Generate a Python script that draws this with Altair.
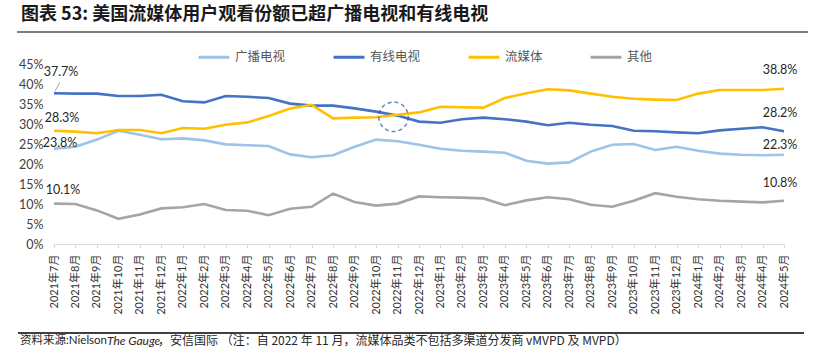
import altair as alt
import pandas as pd

months = [
    "2021年7月", "2021年8月", "2021年9月", "2021年10月", "2021年11月", "2021年12月",
    "2022年1月", "2022年2月", "2022年3月", "2022年4月", "2022年5月", "2022年6月",
    "2022年7月", "2022年8月", "2022年9月", "2022年10月", "2022年11月", "2022年12月",
    "2023年1月", "2023年2月", "2023年3月", "2023年4月", "2023年5月", "2023年6月",
    "2023年7月", "2023年8月", "2023年9月", "2023年10月", "2023年11月", "2023年12月",
    "2024年1月", "2024年2月", "2024年3月", "2024年4月", "2024年5月",
]

broadcast = [23.8, 24.3, 26.1, 28.3, 27.3, 26.2, 26.4, 25.9, 24.9, 24.7, 24.5, 22.4,
             21.7, 22.2, 24.3, 26.1, 25.7, 24.8, 23.8, 23.3, 23.1, 22.8, 20.8, 20.1,
             20.4, 23.1, 24.8, 25.0, 23.5, 24.3, 23.3, 22.6, 22.3, 22.2, 22.3]
cable = [37.7, 37.6, 37.6, 37.0, 37.0, 37.3, 35.7, 35.4, 37.0, 36.8, 36.5, 35.1,
         34.6, 34.6, 33.9, 33.1, 32.1, 30.6, 30.3, 31.2, 31.6, 31.2, 30.6, 29.7,
         30.3, 29.8, 29.5, 28.3, 28.2, 27.9, 27.7, 28.4, 28.8, 29.2, 28.2]
streaming = [28.3, 28.1, 27.7, 28.5, 28.5, 27.7, 29.0, 28.8, 29.8, 30.4, 32.0, 33.9,
             34.8, 31.4, 31.6, 31.7, 32.3, 32.9, 34.3, 34.2, 34.1, 36.5, 37.7, 38.7,
             38.4, 37.6, 36.8, 36.3, 36.1, 36.0, 37.6, 38.5, 38.5, 38.5, 38.8]
other = [10.1, 10.0, 8.4, 6.3, 7.4, 8.9, 9.2, 10.0, 8.5, 8.3, 7.2, 8.8,
         9.3, 12.6, 10.5, 9.6, 10.1, 11.9, 11.7, 11.6, 11.4, 9.7, 10.9, 11.7,
         11.2, 9.8, 9.3, 10.8, 12.7, 11.8, 11.2, 10.8, 10.6, 10.4, 10.8]

series_names = ["广播电视", "有线电视", "流媒体", "其他"]
series_values = [broadcast, cable, streaming, other]
colors = ["#9DC3E6", "#4472C4", "#FFC000", "#A5A5A5"]

y_ticks = [0, 5, 10, 15, 20, 25, 30, 35, 40, 45]

title_text = "图表 53: 美国流媒体用户观看份额已超广播电视和有线电视"
source_a = "资料来源:Nielson"
source_b = "The Gauge"
source_c = "，安信国际 （注：自 2022 年 11 月，流媒体品类不包括多渠道分发商 vMVPD 及 MVPD）"

highlight_month = "2022年11月"
highlight_value = 31.8

rows = []
for name, vals in zip(series_names, series_values):
    for i, (m, v) in enumerate(zip(months, vals)):
        rows.append({"month": m, "series": name, "value": v, "idx": i})
df = pd.DataFrame(rows)

LAT = "Lato, 'Noto Sans CJK SC', sans-serif"
CJK = "'Noto Sans CJK SC', sans-serif"

x_enc = alt.X("month:O", sort=months, scale=alt.Scale(type="point", padding=0),
              axis=alt.Axis(title=None, labelAngle=-90, labelFont=LAT, labelFontSize=11,
                            labelColor="#333333", domainColor="#D9D9D9", tickColor="#D9D9D9",
                            tickSize=4, labelPadding=6, grid=False, labelOverlap=False))
y_enc = alt.Y("value:Q", scale=alt.Scale(domain=[0, 45], nice=False),
              axis=alt.Axis(title=None, values=y_ticks, labelExpr="datum.value + '%'",
                            domain=False, ticks=False, grid=False, labelPadding=11,
                            labelOverlap=False, labelFlush=False,
                            labelFont=LAT, labelFontSize=12.5, labelColor="#404040"))

lines = alt.Chart(df).mark_line(strokeWidth=2.6).encode(
    x=x_enc,
    y=y_enc,
    color=alt.Color("series:N", scale=alt.Scale(domain=series_names, range=colors),
                    legend=alt.Legend(title=None, orient="none", legendX=143, legendY=-24,
                                      direction="horizontal", symbolType="stroke",
                                      symbolSize=961, symbolStrokeWidth=3, labelOffset=4,
                                      columnPadding=41, labelFont=CJK, labelFontSize=12.5,
                                      labelColor="#595959")),
    order="idx:Q",
)

layers = [lines]

# data labels: first and last values of each series
first_offsets = {"有线电视": (7, -21), "流媒体": (8, -13), "广播电视": (6, -6), "其他": (9, -14)}
last_offsets = {"流媒体": (-4, -19), "有线电视": (-4, -18), "广播电视": (-4, -10), "其他": (-4, -18)}
for name, vals in zip(series_names, series_values):
    for m, v, offs in [(months[0], vals[0], first_offsets),
                       (months[-1], vals[-1], last_offsets)]:
        dx, dy = offs[name]
        d = pd.DataFrame({"month": [m], "value": [v], "label": [f"{v:.1f}%"]})
        layers.append(alt.Chart(d).mark_text(dx=dx, dy=dy, font=LAT, fontSize=12.5,
                                             color="#262626", align="center",
                                             baseline="middle").encode(
            x=x_enc, y=y_enc, text="label:N"))

# leader line for the 37.7% label
lead = pd.DataFrame({"month": [months[0]], "value": [cable[0]]})
layers.append(alt.Chart(lead).mark_rule(color="#A5A5A5", strokeWidth=1, xOffset=1,
                                        yOffset=-2, x2Offset=6, y2Offset=-11).encode(
    x=x_enc, x2="month:O", y=y_enc, y2="value:Q"))

# dashed highlight circle
circ = pd.DataFrame({"month": [highlight_month], "value": [highlight_value]})
layers.append(alt.Chart(circ).mark_point(shape="circle", size=870, filled=False,
                                         stroke="#2F5597", strokeWidth=1.5,
                                         strokeDash=[4, 3], xOffset=-4).encode(
    x=x_enc, y=y_enc))

one = pd.DataFrame({"a": [0]})
# title
layers.append(alt.Chart(one).mark_text(align="left", baseline="middle", font=CJK,
                                       fontSize=18, fontWeight="bold", color="#1a1a1a").encode(
    x=alt.value(-33), y=alt.value(-49), text=alt.value(title_text)))
# title underline
layers.append(alt.Chart(one).mark_rule(color="#7F7F7F", strokeWidth=2).encode(
    x=alt.value(-37), x2=alt.value(754), y=alt.value(-32), y2=alt.value(-32)))
# footer line
layers.append(alt.Chart(one).mark_rule(color="#000000", strokeWidth=1.5).encode(
    x=alt.value(-36), x2=alt.value(750), y=alt.value(269), y2=alt.value(269)))
# source text
layers.append(alt.Chart(one).mark_text(align="left", baseline="middle", font=LAT,
                                       fontSize=11.5, color="#262626").encode(
    x=alt.value(-34), y=alt.value(277), text=alt.value(source_a)))
layers.append(alt.Chart(one).mark_text(align="left", baseline="middle", font=LAT,
                                       fontSize=12, fontStyle="italic", color="#262626").encode(
    x=alt.value(53), y=alt.value(277), text=alt.value(source_b)))
layers.append(alt.Chart(one).mark_text(align="left", baseline="middle", font=CJK,
                                       fontSize=12, color="#262626").encode(
    x=alt.value(104), y=alt.value(277), text=alt.value(source_c)))

chart = alt.layer(*layers).properties(
    width=730, height=180,
    autosize=alt.AutoSizeParams(type="none"),
    padding={"left": 54, "top": 64, "right": 31, "bottom": 106},
    background="white",
).configure_view(stroke=None)

chart.save("out.html", embed_options={"renderer": "svg", "actions": False})
